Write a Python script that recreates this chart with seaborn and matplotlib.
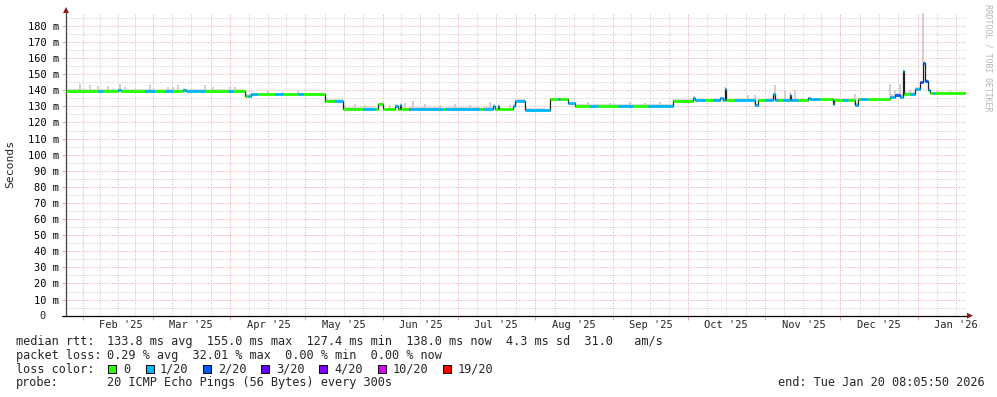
import numpy as np
import pandas as pd
import matplotlib
matplotlib.use("Agg")
import matplotlib.pyplot as plt
import matplotlib.dates as mdates
from matplotlib.patches import Polygon, Rectangle
from matplotlib.lines import Line2D
import seaborn as sns

# ---------------- data ----------------
start_time = "2025-01-25 08:05:50"
end_time = "2026-01-20 08:05:50"

seg_start = [
    "2025-01-25 08:05", "2025-02-07", "2025-02-09", "2025-02-15", "2025-02-16 12:00",
    "2025-02-26", "2025-03-02", "2025-03-06", "2025-03-09", "2025-03-13",
    "2025-03-14 12:00", "2025-03-22", "2025-03-31", "2025-04-02", "2025-04-07",
    "2025-04-08", "2025-04-09 12:00", "2025-04-12", "2025-04-19", "2025-04-22",
    "2025-04-28", "2025-04-30", "2025-05-09", "2025-05-13", "2025-05-16",
    "2025-05-24", "2025-05-29", "2025-05-30", "2025-06-01", "2025-06-06",
    "2025-06-07", "2025-06-08", "2025-06-08 12:00", "2025-06-11 12:00", "2025-06-12",
    "2025-06-25", "2025-06-26", "2025-07-10", "2025-07-11", "2025-07-15",
    "2025-07-16", "2025-07-17", "2025-07-17 12:00", "2025-07-23", "2025-07-24",
    "2025-07-28", "2025-08-05", "2025-08-07", "2025-08-10", "2025-08-11",
    "2025-08-14", "2025-08-17", "2025-08-23", "2025-08-26", "2025-09-03",
    "2025-09-09", "2025-09-15", "2025-09-25", "2025-10-03", "2025-10-04",
    "2025-10-08", "2025-10-11", "2025-10-14", "2025-10-15", "2025-10-16",
    "2025-10-16 12:00", "2025-10-20", "2025-10-28", "2025-10-29", "2025-11-01",
    "2025-11-04", "2025-11-05", "2025-11-06", "2025-11-08", "2025-11-11",
    "2025-11-11 12:00", "2025-11-14", "2025-11-18", "2025-11-19", "2025-11-23",
    "2025-11-28", "2025-11-28 12:00", "2025-12-02", "2025-12-04", "2025-12-07",
    "2025-12-08", "2025-12-09", "2025-12-12", "2025-12-21", "2025-12-23",
    "2025-12-25", "2025-12-26", "2025-12-26 12:00", "2025-12-29", "2025-12-31",
    "2026-01-02", "2026-01-03", "2026-01-04", "2026-01-05", "2026-01-06",
    "2026-01-07", "2026-01-08",
]
seg_median = [
    139.5, 139.5, 139.5, 140.3, 139.5,
    139.5, 139.5, 139.5, 139.5, 140.3,
    139.5, 139.5, 139.5, 139.5, 136.6,
    136.4, 137.4, 137.4, 137.4, 137.4,
    137.4, 137.4, 133.5, 133.5, 128.2,
    128.2, 128.2, 131.5, 128.2, 130.5,
    128.2, 131.0, 128.2, 128.2, 128.2,
    128.2, 128.2, 128.2, 128.2, 130.5,
    128.2, 130.5, 128.2, 130.5, 133.5,
    128.0, 127.5, 134.5, 134.5, 134.5,
    132.0, 130.4, 130.4, 130.4, 130.4,
    130.4, 130.4, 133.4, 135.5, 133.8,
    133.8, 133.8, 135.0, 133.8, 141.0,
    133.8, 133.8, 130.6, 133.8, 133.8,
    138.0, 134.0, 134.0, 134.0, 137.0,
    134.0, 133.7, 135.0, 134.4, 134.4,
    131.5, 134.0, 134.0, 134.0, 131.0,
    134.3, 134.3, 134.3, 135.8, 137.0,
    136.0, 152.0, 138.0, 138.0, 141.0,
    145.0, 157.0, 146.0, 140.0, 138.3,
    138.3, 138.3,
]
# loss level index into loss_labels
seg_loss = [
    0, 1, 0, 1, 0,
    1, 0, 1, 0, 1,
    1, 0, 1, 0, 0,
    1, 1, 0, 1, 0,
    1, 0, 0, 1, 0,
    1, 0, 0, 0, 1,
    0, 1, 0, 5, 1,
    0, 1, 0, 1, 1,
    0, 1, 0, 1, 1,
    1, 1, 0, 1, 0,
    1, 0, 1, 0, 1,
    0, 1, 0, 1, 1,
    0, 1, 1, 1, 1,
    0, 1, 1, 0, 1,
    1, 1, 0, 1, 1,
    1, 0, 1, 1, 0,
    1, 0, 1, 0, 1,
    0, 1, 0, 1, 2,
    1, 1, 0, 1, 1,
    2, 2, 2, 1, 0,
    1, 0,
]
# upper edge of the thin smoke band along each segment
seg_smoke = [
    140.6, 140.8, 140.6, 141.2, 140.6,
    140.6, 140.6, 140.6, 140.6, 141.2,
    140.6, 140.6, 140.6, 140.6, 137.5,
    137.4, 138.4, 138.4, 138.6, 138.4,
    138.4, 138.4, 134.3, 134.3, 129.4,
    129.6, 129.2, 132.3, 129.3, 131.2,
    129.3, 131.8, 129.3, 129.4, 129.5,
    129.3, 129.4, 129.3, 129.4, 131.2,
    129.3, 131.2, 129.3, 131.2, 134.3,
    129.0, 128.3, 135.4, 135.4, 135.4,
    132.8, 131.3, 131.3, 131.4, 131.3,
    131.4, 131.3, 134.3, 136.2, 134.8,
    134.8, 134.9, 135.8, 134.8, 141.6,
    134.8, 134.9, 131.4, 134.8, 135.0,
    139.0, 135.5, 135.0, 135.2, 137.8,
    135.2, 134.6, 135.8, 135.2, 135.2,
    132.3, 134.9, 134.9, 134.9, 131.8,
    135.1, 135.1, 135.2, 137.5, 138.5,
    137.5, 153.0, 139.0, 138.9, 142.0,
    146.0, 158.0, 147.0, 140.8, 139.1,
    139.1, 139.1,
]
# individual smoke spikes (date, top value)
spike_dates = [
    "2025-01-31", "2025-02-04", "2025-02-07", "2025-02-11", "2025-02-16", "2025-02-18",
    "2025-02-28", "2025-03-07", "2025-03-09", "2025-03-11", "2025-03-22", "2025-03-25",
    "2025-04-01", "2025-04-03", "2025-04-16", "2025-04-22", "2025-04-28", "2025-05-17",
    "2025-05-21", "2025-05-25", "2025-06-04", "2025-06-10", "2025-06-13", "2025-06-18",
    "2025-06-24", "2025-06-30", "2025-07-06", "2025-07-14", "2025-07-22", "2025-08-22",
    "2025-08-31", "2025-09-08", "2025-09-14", "2025-09-20", "2025-10-16", "2025-10-25",
    "2025-10-28", "2025-11-05", "2025-11-09", "2025-11-11", "2025-11-13", "2025-12-07",
    "2025-12-21", "2025-12-23", "2025-12-25", "2025-12-29", "2026-01-03", "2026-01-09",
    "2026-01-14",
]
spike_tops = [
    144.0, 143.0, 142.5, 142.5, 144.0, 142.0,
    143.0, 142.0, 142.0, 143.0, 143.0, 142.0,
    142.0, 142.0, 139.3, 139.0, 139.5, 131.0,
    131.5, 131.0, 131.0, 132.0, 133.5, 131.5,
    131.0, 131.5, 131.0, 133.0, 131.0, 132.5,
    132.0, 132.5, 132.0, 133.0, 141.8, 137.0,
    137.0, 143.0, 139.5, 139.0, 140.0, 138.0,
    144.0, 140.0, 144.0, 140.0, 190.0, 139.8,
    139.6,
]

loss_labels = ["0", "1/20", "2/20", "3/20", "4/20", "10/20", "19/20"]
loss_colors = ["#26ff00", "#00b8ff", "#0059ff", "#5e00ff", "#7e00ff", "#dd00ff", "#ff0000"]

y_ticks = [0, 10, 20, 30, 40, 50, 60, 70, 80, 90, 100, 110, 120, 130, 140, 150, 160, 170, 180]
y_tick_labels = ["0", "10 m", "20 m", "30 m", "40 m", "50 m", "60 m", "70 m", "80 m", "90 m",
                 "100 m", "110 m", "120 m", "130 m", "140 m", "150 m", "160 m", "170 m", "180 m"]
month_starts = ["2025-02-01", "2025-03-01", "2025-04-01", "2025-05-01", "2025-06-01", "2025-07-01",
                "2025-08-01", "2025-09-01", "2025-10-01", "2025-11-01", "2025-12-01", "2026-01-01",
                "2026-02-01"]

stats_rtt = "133.8 ms avg  155.0 ms max  127.4 ms min  138.0 ms now  4.3 ms sd  31.0   am/s"
stats_loss = "0.29 % avg  32.01 % max  0.00 % min  0.00 % now"
probe_text = "20 ICMP Echo Pings (56 Bytes) every 300s"
end_text = "end: Tue Jan 20 08:05:50 2026"

# ---------------- style ----------------
sns.set_theme(style="white")
plt.rcParams["font.family"] = ["DejaVu Sans Mono", "DejaVu Sans"]

W, H = 997, 397
fig = plt.figure(figsize=(W / 100, H / 100), dpi=100, facecolor="white")


def fx(px):
    return px / W


def fy(py):
    return 1 - py / H


AX_L, AX_R, AX_B, AX_T = 66, 966, 315.7, 13
ax = fig.add_axes([fx(AX_L), fy(AX_B), (AX_R - AX_L) / W, (AX_B - AX_T) / H])
ax.set_facecolor("white")

t0 = mdates.date2num(pd.Timestamp(start_time))
t1 = mdates.date2num(pd.Timestamp(end_time))
ax.set_xlim(t0, t1)
ax.set_ylim(0, 188)

MAJ = "#eaa3a3"
MIN = "#c8c8c8"
dot = (0, (1, 1.6))

# grid
for v in range(10, 181, 10):
    ax.axhline(v, color=MAJ, lw=0.7, ls=dot, zorder=1)
for v in range(5, 186, 10):
    ax.axhline(v, color=MIN, lw=0.7, ls=dot, zorder=1)

ms = [pd.Timestamp(m) for m in month_starts]
for i in range(len(ms) - 1):
    a = mdates.date2num(ms[i])
    b = mdates.date2num(ms[i + 1])
    for k in (1, 2, 3):
        q = a + (b - a) * k / 4
        if t0 < q < t1:
            ax.axvline(q, color=MIN, lw=0.7, ls=dot, zorder=1)
    if t0 < a < t1:
        ax.axvline(a, color=MAJ, lw=0.7, ls=dot, zorder=1)

# series
tnum = list(mdates.date2num(pd.to_datetime(seg_start, format="mixed")))
xs = tnum + [t1]
lo = seg_median + [seg_median[-1]]
hi = seg_smoke + [seg_smoke[-1]]

ax.fill_between(xs, lo, hi, step="post", color="#dadada", lw=0, zorder=2)

# smoke spikes: from the median at that date up to the spike top
snum = mdates.date2num(pd.to_datetime(spike_dates, format="mixed"))
idx = np.searchsorted(np.array(tnum), snum, side="right") - 1
spike_base = [seg_median[i] for i in idx]
ax.vlines(snum, spike_base, spike_tops, colors="#cdcdcd", lw=1.3, zorder=2)

line_df = pd.DataFrame({"t": xs, "v": lo})
sns.lineplot(data=line_df, x="t", y="v", drawstyle="steps-post", color="#202020",
             lw=0.9, ax=ax, zorder=3, estimator=None, sort=False)

ax.hlines(seg_median, tnum, xs[1:], colors=[loss_colors[i] for i in seg_loss],
          lw=2.0, zorder=4)

# ticks & labels
ax.set_xlabel("")
ax.set_ylabel("")
for s in ["top", "right"]:
    ax.spines[s].set_visible(False)
ax.spines["left"].set_color("#404040")
ax.spines["left"].set_linewidth(0.9)
ax.spines["bottom"].set_color("#000000")
ax.spines["bottom"].set_linewidth(0.9)

ax.set_yticks(y_ticks)
ax.set_yticklabels([lab if lab != "0" else "" for lab in y_tick_labels])
ax.tick_params(axis="y", which="major", length=3, width=0.7, color=MAJ, pad=2.2,
               labelsize=7.45, labelcolor="#000000", left=True)
ax.annotate(y_tick_labels[0], xy=(0, 0), xycoords="axes fraction", xytext=(-14.6, 0),
            textcoords="offset points", ha="right", va="center", fontsize=7.45)

month_nums = [mdates.date2num(m) for m in ms if t0 < mdates.date2num(m) < t1]
ax.set_xticks(month_nums)
ax.set_xticklabels([""] * len(month_nums))
ax.tick_params(axis="x", which="major", length=3, width=0.7, color=MAJ, bottom=True)

for m in ms:
    c = mdates.date2num(m + pd.Timedelta(days=15, hours=8))
    if t0 < c < t1:
        ax.text(c, -(325 - AX_B) / (AX_B - AX_T), m.strftime("%b '%y"),
                transform=ax.get_xaxis_transform(), ha="center", va="center",
                fontsize=7.45, clip_on=False)

# axis extensions and arrows
fig.add_artist(Line2D([fx(61.5), fx(AX_L)], [fy(AX_B), fy(AX_B)], color="#000000", lw=0.9))
fig.add_artist(Line2D([fx(AX_R), fx(967)], [fy(AX_B), fy(AX_B)], color="#000000", lw=0.9))
fig.add_artist(Polygon([[fx(967), fy(AX_B - 3)], [fx(967), fy(AX_B + 3)], [fx(973), fy(AX_B)]],
                       closed=True, color="#8b1a1a", lw=0))
fig.add_artist(Polygon([[fx(AX_L - 3), fy(13)], [fx(AX_L + 3), fy(13)], [fx(AX_L), fy(7)]],
                       closed=True, color="#8b1a1a", lw=0))

# y title and watermark
fig.text(fx(10), fy(164), "Seconds", rotation=90, ha="center", va="center", fontsize=8.2)
fig.text(fx(987.5), fy(4), "RRDTOOL / TOBI OETIKER", rotation=270, ha="center", va="top",
         fontsize=5.9, color="#b4b4b4")

# legend block
FS = 8.54
fig.text(fx(16), fy(341.7), "median rtt:", ha="left", va="center", fontsize=FS)
fig.text(fx(107.3), fy(341.7), stats_rtt, ha="left", va="center", fontsize=FS)
fig.text(fx(16), fy(355), "packet loss:", ha="left", va="center", fontsize=FS)
fig.text(fx(107.3), fy(355), stats_loss, ha="left", va="center", fontsize=FS)
fig.text(fx(16), fy(369.3), "loss color:", ha="left", va="center", fontsize=FS)
box_x = [108, 145.7, 203, 261, 319, 377.7, 442.7]
lab_x = [123.3, 160, 218, 276.7, 334, 392.7, 458]
for bx, lx, lab, col in zip(box_x, lab_x, loss_labels, loss_colors):
    fig.add_artist(Rectangle((fx(bx), fy(373.3)), 8 / W, 8 / H, facecolor=col,
                             edgecolor="#000000", lw=0.7, transform=fig.transFigure))
    fig.text(fx(lx), fy(369.3), lab, ha="left", va="center", fontsize=FS)
fig.text(fx(16), fy(382.7), "probe:", ha="left", va="center", fontsize=FS)
fig.text(fx(107.3), fy(382.7), probe_text, ha="left", va="center", fontsize=FS)
fig.text(fx(778), fy(382.7), end_text, ha="left", va="center", fontsize=FS)

fig.savefig("out.png", dpi=100, facecolor="white")
